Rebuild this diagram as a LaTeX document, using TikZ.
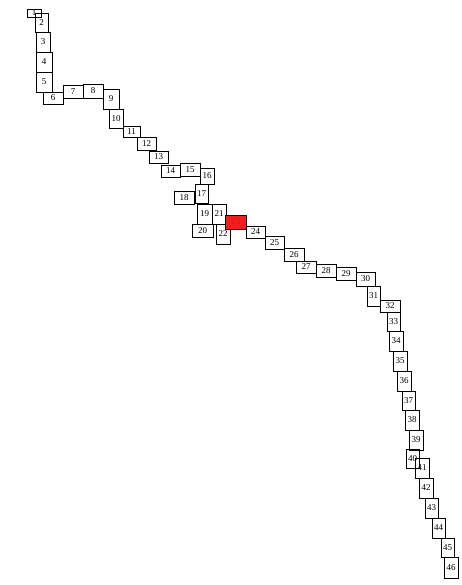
\documentclass[tikz,border=0pt]{standalone}
\usepackage{fontspec}
\setmainfont{Liberation Serif}
\definecolor{boxred}{RGB}{242,30,30}
\definecolor{labred}{RGB}{215,20,20}
\tikzset{
  bx/.style={draw=black, line width=0.9pt, inner sep=0pt, rectangle,
    font=\fontsize{9}{10}\selectfont},
  hot/.style={fill=boxred, text=labred}
}
\newcommand\bx[7][]{\node[bx,#1, minimum width={(#4-#2)*1pt}, minimum height={(#5-#3)*1pt}] (n#7) at ({(#2+#4)/2},{(#3+#5)/2}) {#6};}
\begin{document}
\begin{tikzpicture}[x=1pt,y=-1pt]
\useasboundingbox (0,0) rectangle (461,585);
\bx{27}{9}{41}{17}{1}{1}
\bx{35}{13}{48}{32}{2}{2}
\bx{36}{32}{50}{52}{3}{3}
\bx{36}{52}{52}{72}{4}{4}
\bx{36}{72}{52}{92}{5}{5}
\bx{43}{92}{63}{104}{6}{6}
\bx{63}{85}{83}{98}{7}{7}
\bx{83}{84}{103}{98}{8}{8}
\bx{103}{89}{119}{109}{9}{9}
\bx{109}{109}{123}{128}{10}{10}
\bx{123}{126}{140}{137}{11}{11}
\bx{137}{137}{156}{150}{12}{12}
\bx{149}{151}{168}{163}{13}{13}
\bx{161}{165}{180}{177}{14}{14}
\bx{180}{163}{200}{176}{15}{15}
\bx{200}{168}{214}{184}{16}{16}
\bx{195}{184}{208}{203}{17}{17}
\bx{174}{191}{194}{204}{18}{18}
\bx{197}{204}{212}{224}{19}{19}
\bx{192}{224}{213}{237}{20}{20}
\bx{212}{204}{226}{224}{21}{21}
\bx{216}{224}{230}{244}{22}{22}
\bx[hot]{225}{215}{246}{229}{23}{23}
\bx{246}{226}{265}{238}{24}{24}
\bx{265}{236}{284}{249}{25}{25}
\bx{284}{248}{304}{261}{26}{26}
\bx{296}{261}{316}{273}{27}{27}
\bx{316}{264}{336}{277}{28}{28}
\bx{336}{267}{356}{280}{29}{29}
\bx{356}{272}{375}{286}{30}{30}
\bx{367}{286}{380}{306}{31}{31}
\bx{380}{300}{400}{312}{32}{32}
\bx{387}{312}{400}{331}{33}{33}
\bx{389}{331}{403}{351}{34}{34}
\bx{393}{351}{407}{371}{35}{35}
\bx{397}{371}{411}{391}{36}{36}
\bx{402}{391}{415}{410}{37}{37}
\bx{405}{410}{419}{430}{38}{38}
\bx{409}{430}{423}{450}{39}{39}
\bx{406}{449}{419}{468}{40}{40}
\bx{415}{458}{429}{478}{41}{41}
\bx{419}{478}{433}{498}{42}{42}
\bx{425}{498}{438}{518}{43}{43}
\bx{432}{518}{445}{538}{44}{44}
\bx{441}{538}{454}{557}{45}{45}
\bx{444}{557}{458}{578}{46}{46}
\end{tikzpicture}
\end{document}
